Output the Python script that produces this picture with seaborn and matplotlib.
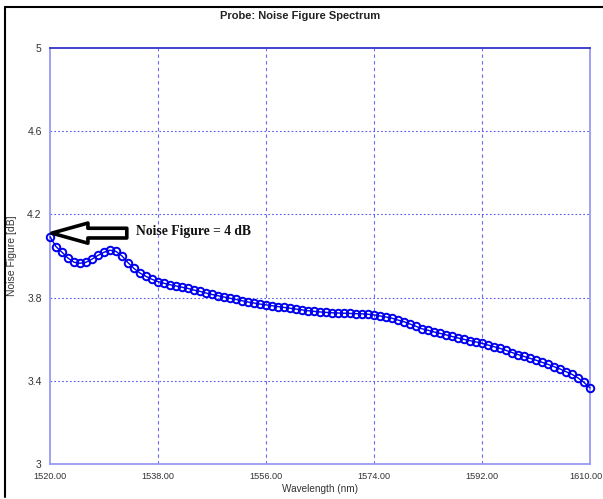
import numpy as np
import pandas as pd
import matplotlib.pyplot as plt
import matplotlib.transforms as mtransforms
import seaborn as sns
from matplotlib.lines import Line2D

# Noise figure spectrum (1 nm steps)
wavelength = list(range(1520, 1611))
noise_figure = [
    4.093, 4.045, 4.018, 3.990, 3.970, 3.965, 3.970, 3.985, 4.003, 4.018,
    4.028, 4.022, 4.000, 3.968, 3.940, 3.918, 3.902, 3.888, 3.877, 3.869,
    3.862, 3.856, 3.850, 3.844, 3.836, 3.830, 3.822, 3.815, 3.809, 3.803,
    3.797, 3.791, 3.785, 3.779, 3.774, 3.769, 3.765, 3.761, 3.757, 3.753,
    3.749, 3.745, 3.741, 3.737, 3.734, 3.731, 3.729, 3.727, 3.726, 3.725,
    3.724, 3.723, 3.722, 3.720, 3.717, 3.712, 3.707, 3.701, 3.692, 3.684,
    3.673, 3.662, 3.650, 3.643, 3.635, 3.628, 3.621, 3.613, 3.606, 3.599,
    3.593, 3.587, 3.580, 3.572, 3.564, 3.556, 3.546, 3.536, 3.526, 3.517,
    3.508, 3.499, 3.489, 3.479, 3.468, 3.457, 3.444, 3.431, 3.414, 3.392,
    3.366,
]
x_ticks = [1520, 1538, 1556, 1574, 1592, 1610]
y_ticks = [3, 3.4, 3.8, 4.2, 4.6, 5]
y_tick_labels = ['3', '3.4', '3.8', '4.2', '4.6', '5']

df = pd.DataFrame({'Wavelength': wavelength, 'NF': noise_figure})

sns.set_style('white')
plt.rcParams['font.family'] = ['Liberation Sans', 'DejaVu Sans']

fig = plt.figure(figsize=(6.03, 4.99), dpi=100)
ax = fig.add_axes([50 / 603, 1 - 464 / 499, 540 / 603, 416 / 499])

sns.lineplot(data=df, x='Wavelength', y='NF', ax=ax, color='#0000ee', lw=1.0,
             marker='o', markersize=5.4, markerfacecolor='none',
             markeredgecolor='#0000ee', markeredgewidth=1.4, clip_on=False, zorder=5)

ax.set_xlim(1520, 1610)
ax.set_ylim(3, 5)
ax.set_xticks(x_ticks)
ax.set_xticklabels([f'{v:.2f}' for v in x_ticks], fontsize=6.6, color='#333333')
ax.set_yticks(y_ticks)
ax.set_yticklabels(y_tick_labels, fontsize=7.5, color='#333333')
ax.tick_params(length=0, pad=6)

# nudge the last x label so it stays inside the figure
last = ax.get_xticklabels()[-1]
last.set_transform(last.get_transform() + mtransforms.ScaledTranslation(-4 / 100, 0, fig.dpi_scale_trans))

# dotted blue grid
for xv in x_ticks[1:-1]:
    ax.axvline(xv, color='#6a6af0', lw=0.8, ls=(0, (3, 3)), zorder=1)
for yv in y_ticks[1:-1]:
    ax.axhline(yv, color='#5a5aee', lw=0.8, ls=(0, (1.5, 2)), zorder=1)

for side in ['left', 'right', 'bottom']:
    ax.spines[side].set_color('#9a9af5')
    ax.spines[side].set_linewidth(1.3)
ax.spines['top'].set_color('#3333cc')
ax.spines['top'].set_linewidth(1.3)

ax.set_xlabel('Wavelength (nm)', fontsize=7.2, color='#333333')
ax.set_ylabel('Noise Figure [dB]', fontsize=7.5, color='#333333')
ax.xaxis.set_label_coords(0.5, -(484 - 464) / 416)
ax.yaxis.set_label_coords(-(50 - 17) / 540, 0.5)

fig.text(0.497, 0.968, 'Probe: Noise Figure Spectrum', ha='center', va='center',
         fontsize=8, fontweight='bold', color='#222222')

# annotation arrow + text
ax.annotate('', xy=(1520.3, 4.11), xytext=(1532.8, 4.11),
            arrowprops=dict(arrowstyle='simple,head_length=2.6,head_width=1.45,tail_width=0.7',
                            fc='white', ec='black', lw=2.6, shrinkA=0, shrinkB=0),
            zorder=6)
ax.text(1534.3, 4.12, 'Noise Figure = 4 dB', fontsize=9.8, fontweight='bold',
        family=['Liberation Serif', 'DejaVu Serif'], va='center', ha='left', color='#111111')

# outer frame lines (left and top)
fig.add_artist(Line2D([5 / 603, 5 / 603], [1 - 7 / 499, 1 - 497 / 499], color='black', lw=1.5))
fig.add_artist(Line2D([5 / 603, 1.0], [1 - 7 / 499, 1 - 7 / 499], color='black', lw=1.5))

fig.savefig('out.png', dpi=100)
